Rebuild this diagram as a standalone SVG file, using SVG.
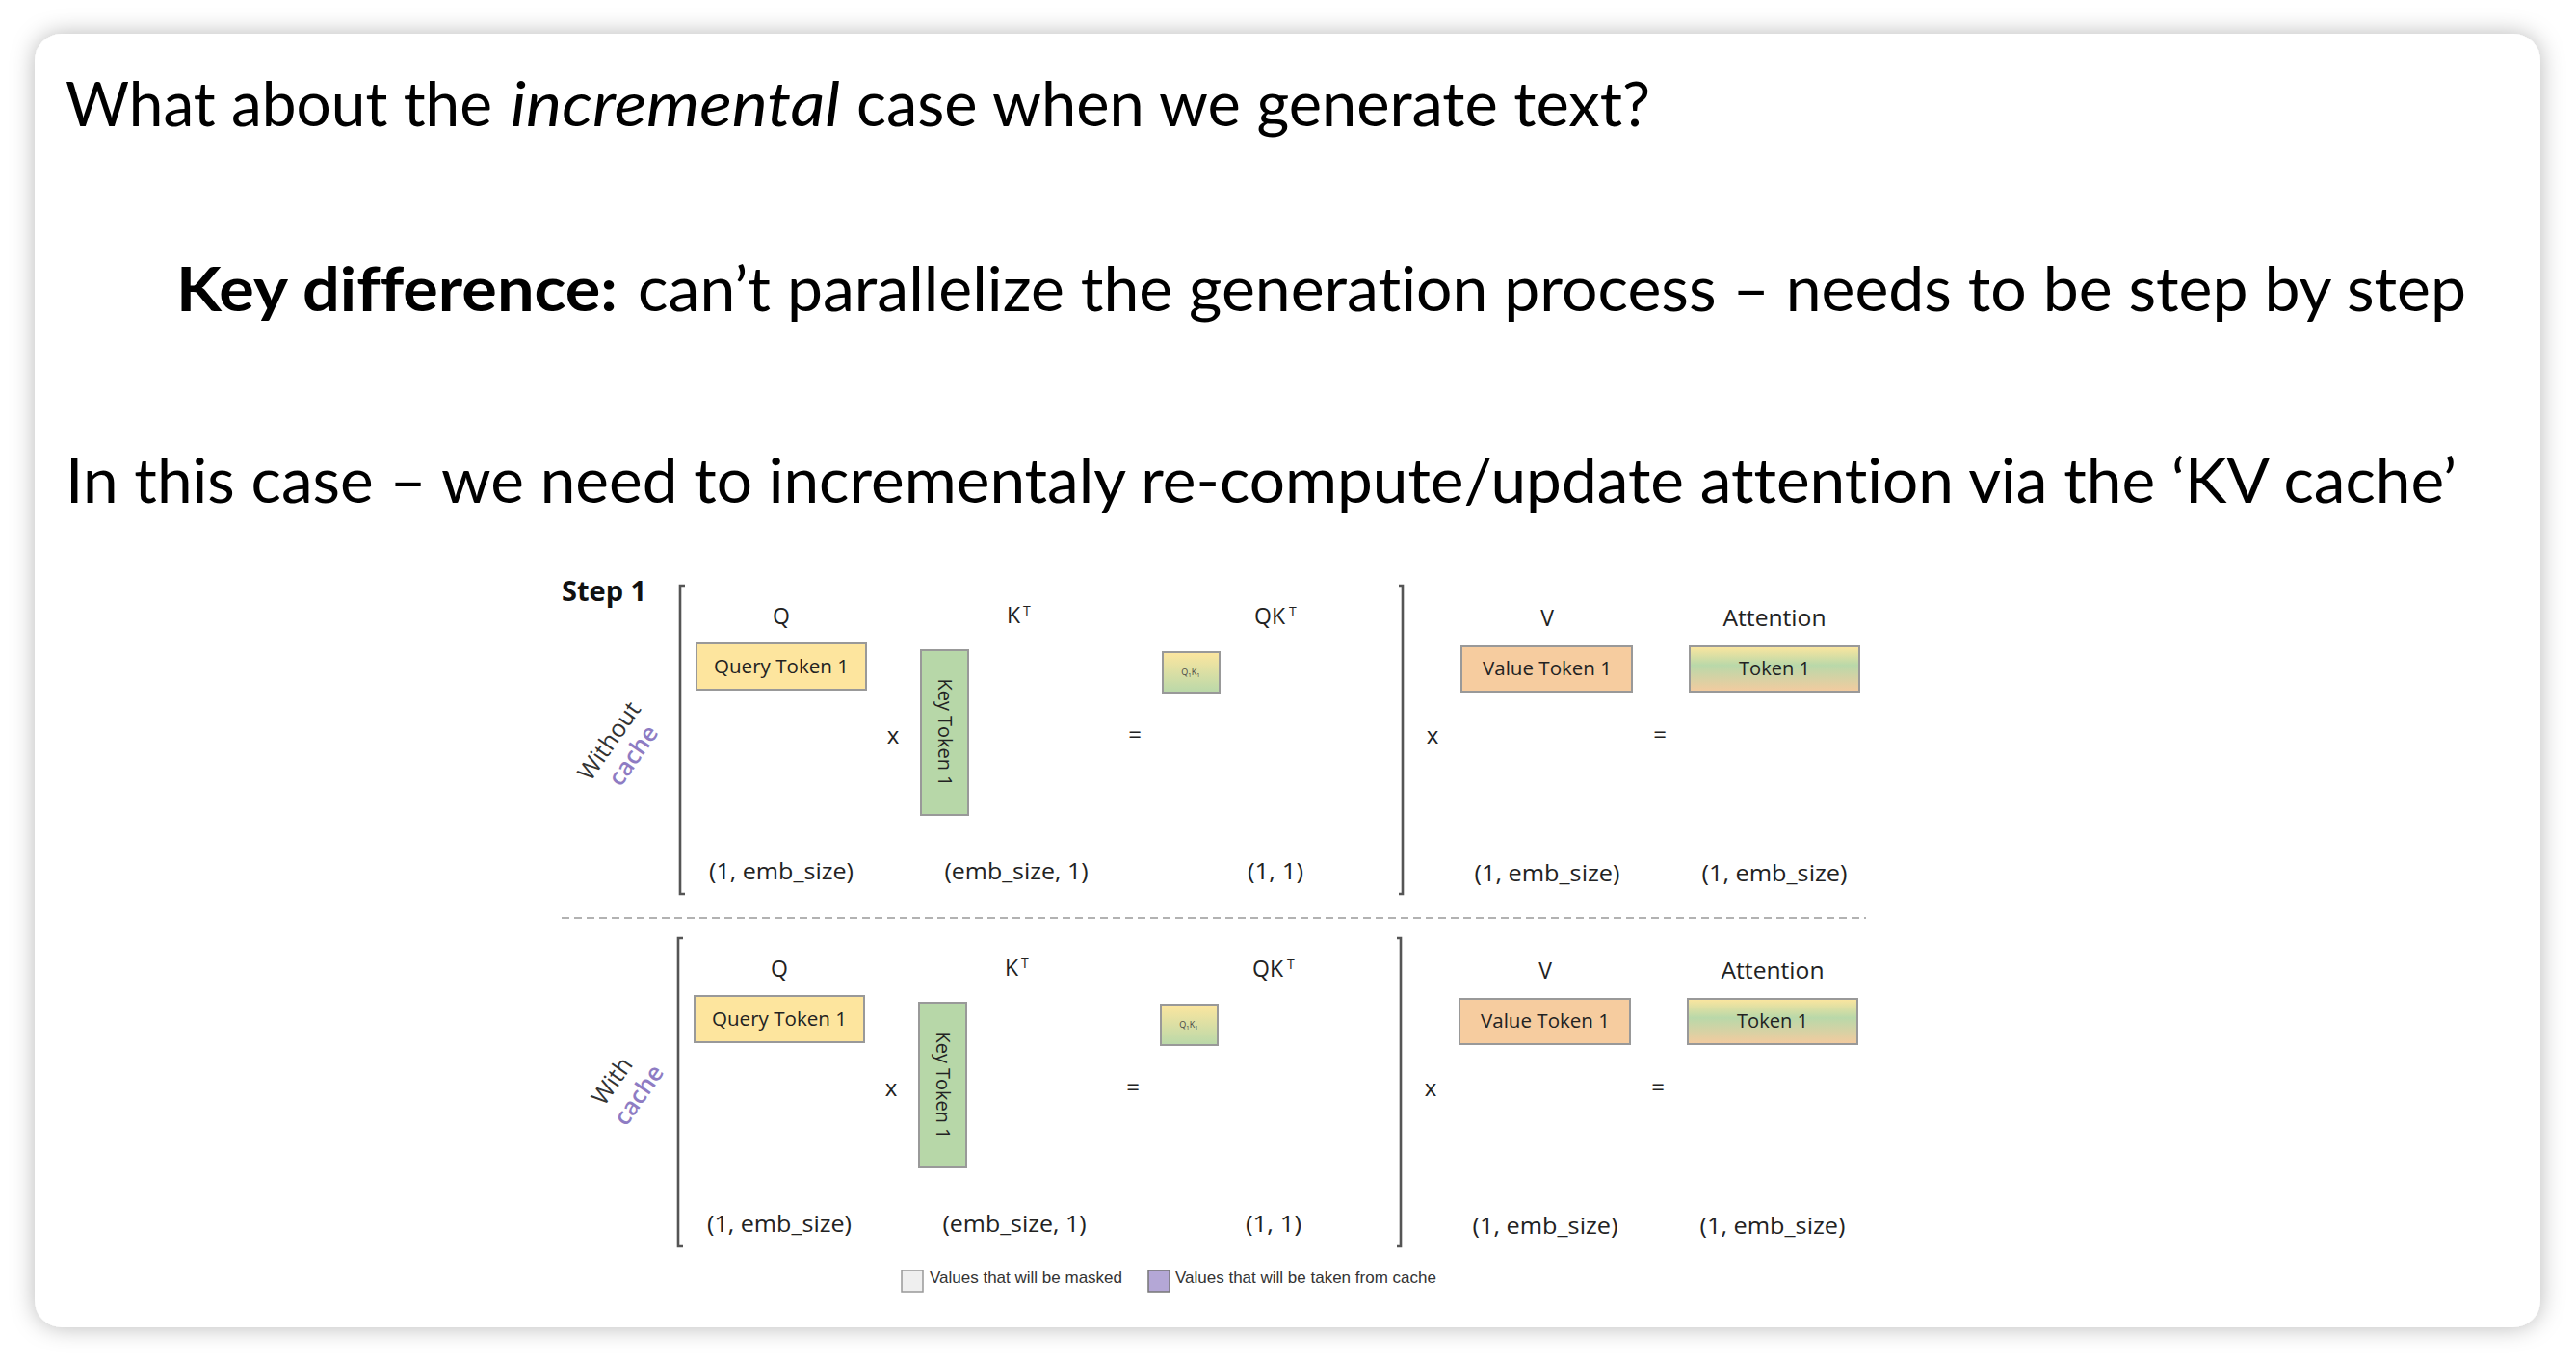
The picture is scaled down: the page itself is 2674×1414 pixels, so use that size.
<svg xmlns="http://www.w3.org/2000/svg" width="2674" height="1414" viewBox="0 0 2674 1414">
<defs>
<filter id="shadow" x="-5%" y="-5%" width="110%" height="110%">
<feDropShadow dx="0" dy="0" stdDeviation="12" flood-color="#000" flood-opacity="0.28"/>
</filter>
<linearGradient id="gQK" x1="0" y1="0" x2="0" y2="1">
<stop offset="0" stop-color="#fde69f"/><stop offset="1" stop-color="#b9d8a9"/>
</linearGradient>
<linearGradient id="gAtt" x1="0" y1="0" x2="0" y2="1">
<stop offset="0" stop-color="#fde69f"/><stop offset="0.42" stop-color="#b9d8a9"/><stop offset="1" stop-color="#f4cb9f"/>
</linearGradient>
<style>
.slide{font-family:Lato,"Liberation Sans",sans-serif;font-size:64px;fill:#000;font-variant-ligatures:none;font-feature-settings:"liga" 0,"clig" 0,"dlig" 0}
.dg{font-family:"Open Sans","Noto Sans",sans-serif;fill:#222}
.lbl{font-size:23px;text-anchor:middle}
.dim{font-size:23px;text-anchor:middle}
.op{font-size:24px;text-anchor:middle}
.btxt{font-size:20px;text-anchor:middle}
.box{stroke:#999;stroke-width:2}
.brk{fill:none;stroke:#555;stroke-width:2.6}
.side{font-size:25px;text-anchor:middle;fill:#333}
.cache{font-size:25px;font-weight:600;text-anchor:middle;fill:#8e7cc3}
.leg{font-family:"Liberation Sans",Arial,sans-serif;font-size:17px;fill:#333}
</style>
</defs>
<rect x="0" y="0" width="2674" height="1414" fill="#ffffff"/>
<rect id="card" x="36" y="35" width="2601" height="1343" rx="28" ry="28" fill="#ffffff" filter="url(#shadow)"/>

<g id="slide-text">
<text class="slide" x="68" y="131" textLength="443" lengthAdjust="spacingAndGlyphs">What about the</text>
<text class="slide" x="530" y="131" font-style="italic" textLength="342" lengthAdjust="spacingAndGlyphs">incremental</text>
<text class="slide" x="889" y="131" textLength="824" lengthAdjust="spacingAndGlyphs">case when we generate text?</text>
<text class="slide" x="183" y="323" font-weight="700" textLength="458" lengthAdjust="spacingAndGlyphs">Key difference:</text>
<text class="slide" x="662" y="323" textLength="1898" lengthAdjust="spacingAndGlyphs">can’t parallelize the generation process – needs to be step by step</text>
<text class="slide" x="68" y="522" textLength="2482" lengthAdjust="spacingAndGlyphs">In this case – we need to incrementaly re-compute/update attention via the ‘KV cache’</text>
</g>

<g id="step-title" class="dg">
<text x="583" y="624" font-size="29" font-weight="700" fill="#111">Step 1</text>
</g>

<g id="label-without" transform="translate(632,769) rotate(-55)" class="dg">
<text class="side" x="0" y="9">Without</text>
<text class="cache" x="2" y="38">cache</text>
</g>

<g id="connectors">
<path class="brk" d="M711,608 H706 V928 H711"/>
<path class="brk" d="M1452,608 H1456 V928 H1452"/>
<line x1="583" y1="953" x2="1937" y2="953" stroke="#999" stroke-width="1.6" stroke-dasharray="8 5"/>
<path class="brk" d="M709,974 H704 V1294 H709"/>
<path class="brk" d="M1450,974 H1454 V1294 H1450"/>
</g>

<g id="top-section" class="dg">
<g id="q-top">
<text class="lbl" x="811" y="648">Q</text>
<rect class="box" x="723" y="668" width="176" height="48" fill="#fde59e"/>
<text class="btxt" x="811" y="699" textLength="140" lengthAdjust="spacingAndGlyphs">Query Token 1</text>
<text class="dim" x="811" y="913" textLength="150" lengthAdjust="spacingAndGlyphs">(1, emb_size)</text>
</g>
<text class="op" x="927" y="772">x</text>
<g id="k-top">
<text x="1045" y="647" font-size="23">K<tspan x="1062" y="639" font-size="14">T</tspan></text>
<rect class="box" x="956" y="675" width="49" height="171" fill="#b7d7a8"/>
<text class="btxt" transform="translate(980.5,760.5) rotate(90)" x="0" y="7" textLength="112" lengthAdjust="spacingAndGlyphs">Key Token 1</text>
<text class="dim" x="1055" y="913" textLength="149" lengthAdjust="spacingAndGlyphs">(emb_size, 1)</text>
</g>
<text class="op" x="1178" y="771">=</text>
<g id="qk-top">
<text x="1302" y="648" font-size="23">QK<tspan x="1338" y="640" font-size="14">T</tspan></text>
<rect class="box" x="1207" y="677" width="59" height="42" fill="url(#gQK)"/>
<text x="1236" y="701" font-size="9" text-anchor="middle" fill="#444">Q<tspan font-size="6" dy="2">1</tspan><tspan dy="-2">K</tspan><tspan font-size="6" dy="2">1</tspan></text>
<text class="dim" x="1324" y="913" textLength="58" lengthAdjust="spacingAndGlyphs">(1, 1)</text>
</g>
<text class="op" x="1487" y="772">x</text>
<g id="v-top">
<text class="lbl" x="1606" y="650">V</text>
<rect class="box" x="1517" y="671" width="177" height="47" fill="#f6cc9f"/>
<text class="btxt" x="1606" y="701" textLength="134" lengthAdjust="spacingAndGlyphs">Value Token 1</text>
<text class="dim" x="1606" y="915" textLength="151" lengthAdjust="spacingAndGlyphs">(1, emb_size)</text>
</g>
<text class="op" x="1723" y="771">=</text>
<g id="att-top">
<text class="lbl" x="1842" y="650" textLength="107" lengthAdjust="spacingAndGlyphs">Attention</text>
<rect class="box" x="1754" y="671" width="176" height="47" fill="url(#gAtt)"/>
<text class="btxt" x="1842" y="701" textLength="74" lengthAdjust="spacingAndGlyphs">Token 1</text>
<text class="dim" x="1842" y="915" textLength="151" lengthAdjust="spacingAndGlyphs">(1, emb_size)</text>
</g>
</g>

<g id="label-with" transform="translate(635,1122) rotate(-55)" class="dg">
<text class="side" x="0" y="9">With</text>
<text class="cache" x="4" y="40">cache</text>
</g>

<g id="bottom-section" class="dg" transform="translate(-2,366)">
<g id="q-bot">
<text class="lbl" x="811" y="648">Q</text>
<rect class="box" x="723" y="668" width="176" height="48" fill="#fde59e"/>
<text class="btxt" x="811" y="699" textLength="140" lengthAdjust="spacingAndGlyphs">Query Token 1</text>
<text class="dim" x="811" y="913" textLength="150" lengthAdjust="spacingAndGlyphs">(1, emb_size)</text>
</g>
<text class="op" x="927" y="772">x</text>
<g id="k-bot">
<text x="1045" y="647" font-size="23">K<tspan x="1062" y="639" font-size="14">T</tspan></text>
<rect class="box" x="956" y="675" width="49" height="171" fill="#b7d7a8"/>
<text class="btxt" transform="translate(980.5,760.5) rotate(90)" x="0" y="7" textLength="112" lengthAdjust="spacingAndGlyphs">Key Token 1</text>
<text class="dim" x="1055" y="913" textLength="149" lengthAdjust="spacingAndGlyphs">(emb_size, 1)</text>
</g>
<text class="op" x="1178" y="771">=</text>
<g id="qk-bot">
<text x="1302" y="648" font-size="23">QK<tspan x="1338" y="640" font-size="14">T</tspan></text>
<rect class="box" x="1207" y="677" width="59" height="42" fill="url(#gQK)"/>
<text x="1236" y="701" font-size="9" text-anchor="middle" fill="#444">Q<tspan font-size="6" dy="2">1</tspan><tspan dy="-2">K</tspan><tspan font-size="6" dy="2">1</tspan></text>
<text class="dim" x="1324" y="913" textLength="58" lengthAdjust="spacingAndGlyphs">(1, 1)</text>
</g>
<text class="op" x="1487" y="772">x</text>
<g id="v-bot">
<text class="lbl" x="1606" y="650">V</text>
<rect class="box" x="1517" y="671" width="177" height="47" fill="#f6cc9f"/>
<text class="btxt" x="1606" y="701" textLength="134" lengthAdjust="spacingAndGlyphs">Value Token 1</text>
<text class="dim" x="1606" y="915" textLength="151" lengthAdjust="spacingAndGlyphs">(1, emb_size)</text>
</g>
<text class="op" x="1723" y="771">=</text>
<g id="att-bot">
<text class="lbl" x="1842" y="650" textLength="107" lengthAdjust="spacingAndGlyphs">Attention</text>
<rect class="box" x="1754" y="671" width="176" height="47" fill="url(#gAtt)"/>
<text class="btxt" x="1842" y="701" textLength="74" lengthAdjust="spacingAndGlyphs">Token 1</text>
<text class="dim" x="1842" y="915" textLength="151" lengthAdjust="spacingAndGlyphs">(1, emb_size)</text>
</g>
</g>

<g id="legend">
<rect x="936" y="1319" width="22" height="22" fill="#efefef" stroke="#999" stroke-width="1.5"/>
<text class="leg" x="965" y="1332">Values that will be masked</text>
<rect x="1192" y="1319" width="22" height="22" fill="#b4a7d6" stroke="#777" stroke-width="1.5"/>
<text class="leg" x="1220" y="1332">Values that will be taken from cache</text>
</g>
</svg>
